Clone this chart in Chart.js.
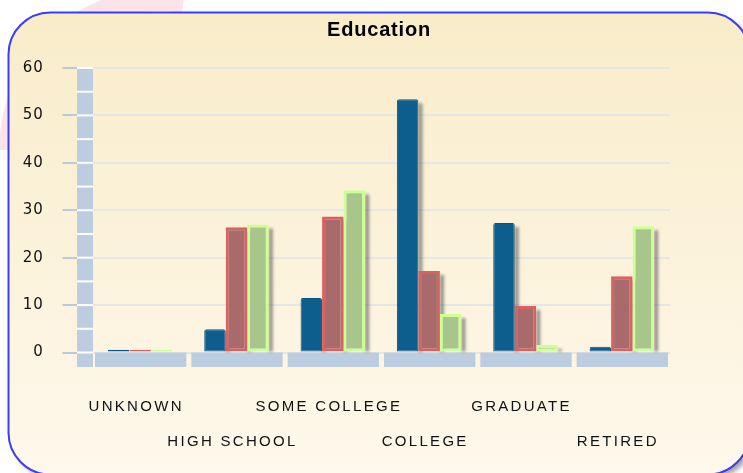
<!DOCTYPE html>
<html>
<head>
<meta charset="utf-8">
<script src="https://cdn.jsdelivr.net/npm/chart.js@4.4.0/dist/chart.umd.min.js"></script>
<style>
  html, body { margin: 0; padding: 0; background: #fff; }
  canvas { display: block; }
</style>
</head>
<body>
<canvas id="edu-chart" width="743" height="473"></canvas>
<script>
// Education breakdown, three series per category
const categories = ['UNKNOWN', 'HIGH SCHOOL', 'SOME COLLEGE', 'COLLEGE', 'GRADUATE', 'RETIRED'];
const seriesBlue = [0.6, 4.9, 11.5, 53.4, 27.3, 1.2];
const seriesRed = [0.6, 26.4, 28.7, 17.2, 9.8, 16.1];
const seriesGreen = [0.6, 27.0, 34.2, 8.1, 1.6, 26.6];
const yMin = 0;
const yMax = 60;
const yStep = 10;

const WALL = '#bccddf';

// Rounded panel behind everything, with gradient and blue outline
const panelPlugin = {
    id: 'panel',
    beforeDraw(chart) {
        const ctx = chart.ctx;
        ctx.save();
        ctx.fillStyle = '#ffffff';
        ctx.fillRect(0, 0, chart.width, chart.height);

        // faint pink swoosh in the top-left corner
        ctx.strokeStyle = 'rgba(248, 200, 212, 0.5)';
        ctx.lineWidth = 22;
        ctx.beginPath();
        ctx.arc(160, 150, 150, Math.PI * 1.0, Math.PI * 1.55);
        ctx.stroke();

        const x = 8.5, y = 12.5, w = 741, h = 462, r = 42;
        ctx.beginPath();
        ctx.roundRect(x, y, w, h, r);
        ctx.shadowColor = 'rgba(0, 0, 0, 0.35)';
        ctx.shadowOffsetX = 4;
        ctx.shadowOffsetY = 4;
        ctx.shadowBlur = 4;
        const grad = ctx.createLinearGradient(0, y, 0, y + h);
        grad.addColorStop(0, '#f8ecc9');
        grad.addColorStop(1, '#fff8ec');
        ctx.fillStyle = grad;
        ctx.fill();
        ctx.shadowColor = 'transparent';
        ctx.lineWidth = 2;
        ctx.strokeStyle = '#3c3cf5';
        ctx.stroke();
        ctx.restore();

        // slightly spaced text for the title and value axis
        ctx.letterSpacing = '0.8px';
    },
    beforeDatasetsDraw(chart) {
        const ctx = chart.ctx;
        const area = chart.chartArea;
        const yScale = chart.scales.y;
        const zeroY = yScale.getPixelForValue(0);
        const floorBottom = zeroY + 14.5;
        const catW = (area.right - area.left) / categories.length;
        ctx.save();

        // left wall
        const wallTop = yScale.getPixelForValue(yMax) - 0.5;
        ctx.fillStyle = WALL;
        ctx.fillRect(area.left - 15, wallTop, 16, floorBottom - wallTop);
        ctx.fillStyle = '#ffffff';
        for (let v = yMin; v <= yMax; v += yStep / 2) {
            const py = yScale.getPixelForValue(v);
            ctx.fillRect(area.left - 15, py - 1, 16, 2);
        }

        // floor blocks, one per category
        ctx.fillStyle = WALL;
        for (let i = 0; i < categories.length; i++) {
            const b0 = area.left + i * catW;
            ctx.fillRect(b0 + 3, zeroY, catW - 5, floorBottom - zeroY);
        }

        // soft shadows to the right of each bar (skip the flat ones)
        ctx.fillStyle = 'rgba(50, 50, 50, 0.5)';
        ctx.filter = 'blur(1.5px)';
        chart.data.datasets.forEach((ds, di) => {
            chart.getDatasetMeta(di).data.forEach((bar) => {
                if (bar.base - bar.y < 6) return;
                const right = bar.x + bar.width / 2;
                const top = bar.y + 4;
                ctx.fillRect(right, top, 4, bar.base - top);
            });
        });
        ctx.restore();
    },
    afterDatasetsDraw(chart) {
        chart.ctx.letterSpacing = '2.3px';
    },
    afterDraw(chart) {
        chart.ctx.letterSpacing = '0px';
    },
};

const ctx = document.getElementById('edu-chart').getContext('2d');
const chart = new Chart(ctx, {
    type: 'bar',
    data: {
        labels: categories,
        datasets: [
            {
                label: 'Series 1',
                data: seriesBlue,
                backgroundColor: '#0e5e8d',
                borderColor: '#0b5683',
                borderWidth: 1,
                borderSkipped: false,
                borderRadius: { topLeft: 2, topRight: 2 },
            },
            {
                label: 'Series 2',
                data: seriesRed,
                backgroundColor: '#a86a6a',
                borderColor: '#d86262',
                borderWidth: 3,
                borderSkipped: false,
            },
            {
                label: 'Series 3',
                data: seriesGreen,
                backgroundColor: '#a8c68b',
                borderColor: '#ccff94',
                borderWidth: 3,
                borderSkipped: false,
            },
        ],
    },
    options: {
        responsive: false,
        animation: false,
        devicePixelRatio: 1,
        layout: {
            padding: { left: 20, right: 5, top: 0, bottom: 0 },
        },
        datasets: {
            bar: {
                categoryPercentage: 0.67,
                barPercentage: 1.0,
            },
        },
        plugins: {
            legend: { display: false },
            tooltip: { enabled: false },
            title: {
                display: true,
                text: 'Education',
                color: '#000',
                font: { family: 'Liberation Sans, Arial, sans-serif', size: 20, weight: 'bold' },
                padding: { top: 18, bottom: 26 },
            },
        },
        scales: {
            x: {
                grid: { display: false, drawTicks: false },
                border: { display: false },
                afterFit: (s) => { s.height = 120.5; },
                ticks: {
                    z: 1,
                    autoSkip: false,
                    maxRotation: 0,
                    minRotation: 0,
                    padding: 37,
                    labelOffset: -4,
                    color: '#111',
                    font: { family: 'Liberation Sans, Arial, sans-serif', size: 15, lineHeight: '35px' },
                    callback: (v, i) => (i % 2 ? ['', categories[i]] : [categories[i], '']),
                },
            },
            y: {
                min: yMin,
                max: yMax,
                afterFit: (s) => { s.width = 72; },
                border: { display: false },
                grid: {
                    color: '#e6e6e4',
                    lineWidth: 2,
                    tickColor: '#b9cadb',
                    tickWidth: 2,
                    tickLength: 29.5,
                },
                ticks: {
                    stepSize: yStep,
                    padding: 19,
                    color: '#111',
                    font: { family: 'DejaVu Sans, sans-serif', size: 15 },
                },
            },
            // empty spacer on the right so the plot ends where the reference does
            spacer: {
                type: 'linear',
                position: 'right',
                display: true,
                afterFit: (s) => { s.width = 68; },
                grid: { display: false, drawTicks: false },
                border: { display: false },
                ticks: { display: false },
            },
        },
    },
    plugins: [panelPlugin],
});
</script>
</body>
</html>
